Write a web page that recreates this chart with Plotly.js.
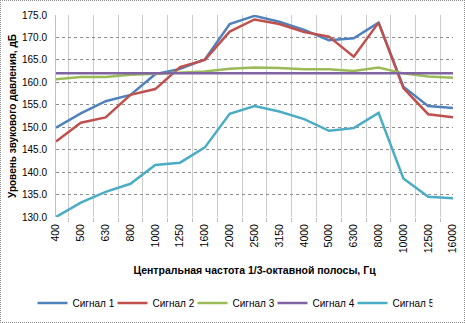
<!DOCTYPE html>
<html>
<head>
<meta charset="utf-8">
<script src="https://cdn.plot.ly/plotly-3.0.1.min.js"></script>
<style>
  html, body { margin: 0; padding: 0; background: #fff; }
  #wrap { position: relative; width: 465px; height: 323px; }
  #chart { width: 465px; height: 323px; }
  #frame { position: absolute; left: 0; top: 0; width: 465px; height: 323px; box-sizing: border-box; border: 1px dotted #8c8c8c; pointer-events: none; }
</style>
</head>
<body>
<div id="wrap"><div id="chart"></div><div id="frame"></div></div>
<script>
const categories = ["400","500","630","800","1000","1250","1600","2000","2500","3150","4000","5000","6300","8000","10000","12500","16000"];
const seriesNames = ["Сигнал 1","Сигнал 2","Сигнал 3","Сигнал 4","Сигнал 5"];
const signal1 = [149.9,153.1,155.8,157.2,161.8,163.0,165.1,173.0,174.8,173.5,171.7,169.4,169.8,173.3,159.0,154.7,154.3];
const signal2 = [146.8,151.0,152.2,157.2,158.5,163.4,165.0,171.3,174.0,173.0,171.2,170.2,165.7,173.3,158.7,152.9,152.2];
const signal3 = [160.7,161.2,161.2,161.7,161.9,162.2,162.4,163.0,163.3,163.2,162.9,162.9,162.5,163.3,162.0,161.3,161.0];
const signal4 = [162.0,162.0,162.0,162.0,162.0,162.0,162.0,162.0,162.0,162.0,162.0,162.0,162.0,162.0,162.0,162.0,162.0];
const signal5 = [130.0,133.2,135.6,137.4,141.6,142.1,145.5,153.0,154.7,153.5,151.8,149.2,149.8,153.2,138.6,134.5,134.2];
const colors = ["#4F81BD","#C0504D","#9BBB59","#8064A2","#4BACC6"];
const yTitle = "Уровень звукового давления, дБ";
const xTitle = "Центральная частота 1/3-октавной полосы, Гц";

const allSeries = [signal1, signal2, signal3, signal4, signal5];
const traces = allSeries.map((vals, i) => ({
  type: "scatter",
  mode: "lines",
  x: categories,
  y: vals,
  name: seriesNames[i],
  line: { color: colors[i], width: 2.5 }
}));

const layout = {
  width: 465,
  height: 323,
  margin: { l: 56, r: 12, t: 15, b: 106 },
  paper_bgcolor: "#ffffff",
  plot_bgcolor: "#ffffff",
  showlegend: true,
  legend: {
    orientation: "h",
    xref: "container",
    yref: "container",
    x: 0.5,
    xanchor: "center",
    y: 0.062,
    yanchor: "middle",
    font: { family: "Liberation Sans Narrow, Arial Narrow, sans-serif", size: 10, color: "#000" },
    entrywidth: 35,
    entrywidthmode: "pixels",
    itemwidth: 30,
    tracegroupgap: 0
  },
  xaxis: {
    type: "category",
    tickson: "boundaries",
    ticks: "outside",
    ticklen: 4,
    tickcolor: "#bfbfbf",
    tickangle: -90,
    ticklabelstandoff: 4,
    tickfont: { family: "Liberation Sans, Arial, sans-serif", size: 10.5, color: "#000" },
    showgrid: true,
    gridcolor: "#cccccc",
    gridwidth: 1,
    showline: false,
    zeroline: false,
    automargin: false,
    title: {
      text: xTitle,
      font: { family: "Liberation Sans Narrow, Arial Narrow, sans-serif", size: 10.5, color: "#000", weight: "bold" },
      standoff: 14
    }
  },
  yaxis: {
    range: [130, 175],
    dtick: 5,
    tick0: 130,
    tickformat: ".1f",
    ticks: "",
    ticklabelstandoff: 6,
    tickfont: { family: "Liberation Sans Narrow, Arial Narrow, sans-serif", size: 10, color: "#000" },
    showgrid: true,
    gridcolor: "#8c8c8c",
    griddash: "dot",
    gridwidth: 1,
    zeroline: false,
    showline: true,
    linecolor: "#bfbfbf",
    automargin: false,
    title: {
      text: yTitle,
      font: { family: "Liberation Sans, Arial, sans-serif", size: 10, color: "#000", weight: "bold" },
      standoff: 3
    }
  }
};

Plotly.newPlot("chart", traces, layout, { displayModeBar: false, staticPlot: true });
</script>
</body>
</html>
